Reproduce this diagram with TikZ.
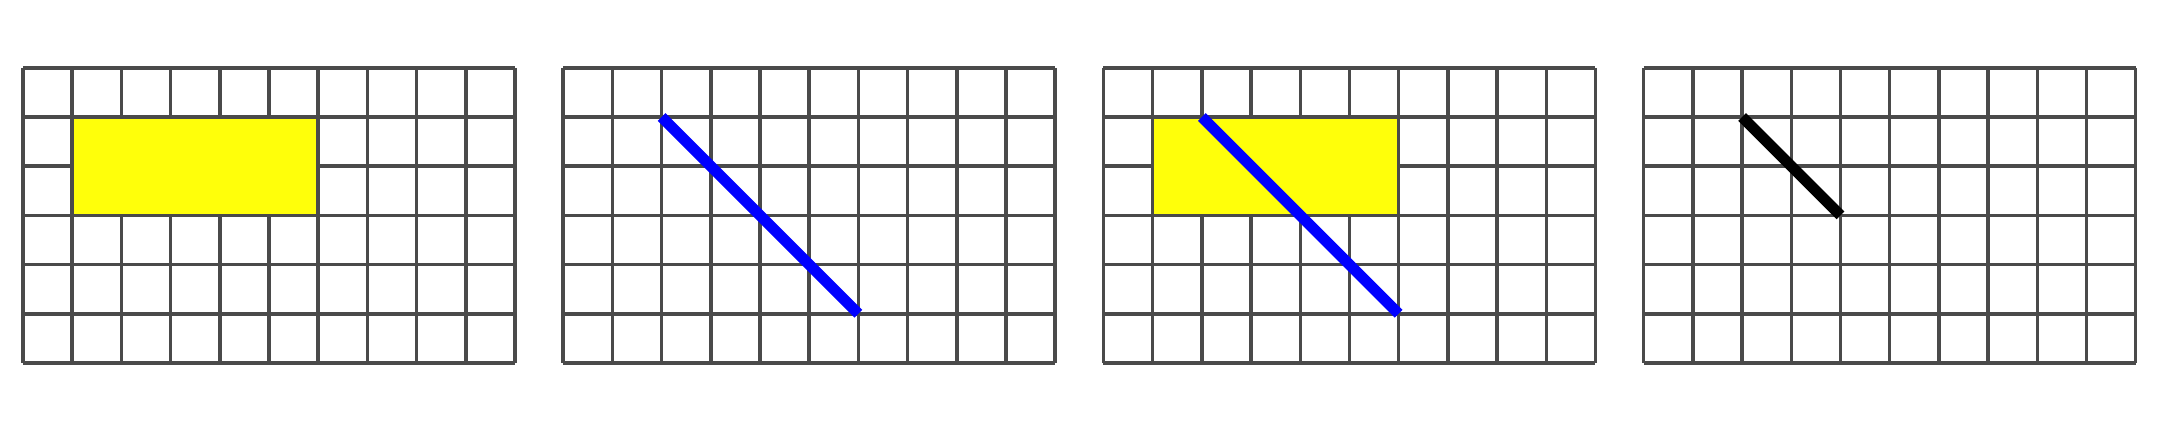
\documentclass[tikz,border=0pt]{standalone}
\usepackage{xcolor}
\usepackage{tikz}
\usetikzlibrary{positioning}
\definecolor{gridgray}{RGB}{74,74,74}
\definecolor{hiyellow}{RGB}{255,255,10}
\tikzset{
  gridln/.style={draw=gridgray,line width=1pt,xstep=0.5cm,ystep=0.5cm},
  region/.style={fill=hiyellow,draw=gridgray,line width=1pt},
  segblue/.style={draw=blue,line width=3.2pt},
  segblack/.style={draw=black,line width=3.2pt},
}

\begin{document}
\begin{tikzpicture}[x=0.5cm,y=0.5cm]
  \useasboundingbox (-0.4675,-1.402) rectangle (43.435,7.378);
  \def\D{10.98}
  % the four 10x6 grids
  \foreach \k in {0,...,3}{
    \begin{scope}[xshift=\k*\D*0.5cm]
      \draw[gridln] (0,0) grid (10,6);
    \end{scope}
  }
  % grid 1: region only
  \begin{scope}[xshift=0cm]
    \filldraw[region] (1,3) rectangle (6,5);
  \end{scope}
  % grid 2: segment only
  \begin{scope}[xshift=\D*0.5cm]
    \coordinate (p2) at (2,5);
    \coordinate (q2) at (6,1);
    \draw[segblue] (p2) -- (q2);
  \end{scope}
  % grid 3: region and segment
  \begin{scope}[xshift=2*\D*0.5cm]
    \filldraw[region] (1,3) rectangle (6,5);
    \coordinate (p3) at (2,5);
    \coordinate (q3) at (6,1);
    \draw[segblue] (p3) -- (q3);
  \end{scope}
  % grid 4: the clipped part
  \begin{scope}[xshift=3*\D*0.5cm]
    \coordinate (p4) at (2,5);
    \coordinate (q4) at (4,3);
    \draw[segblack] (p4) -- (q4);
  \end{scope}
\end{tikzpicture}
\end{document}
